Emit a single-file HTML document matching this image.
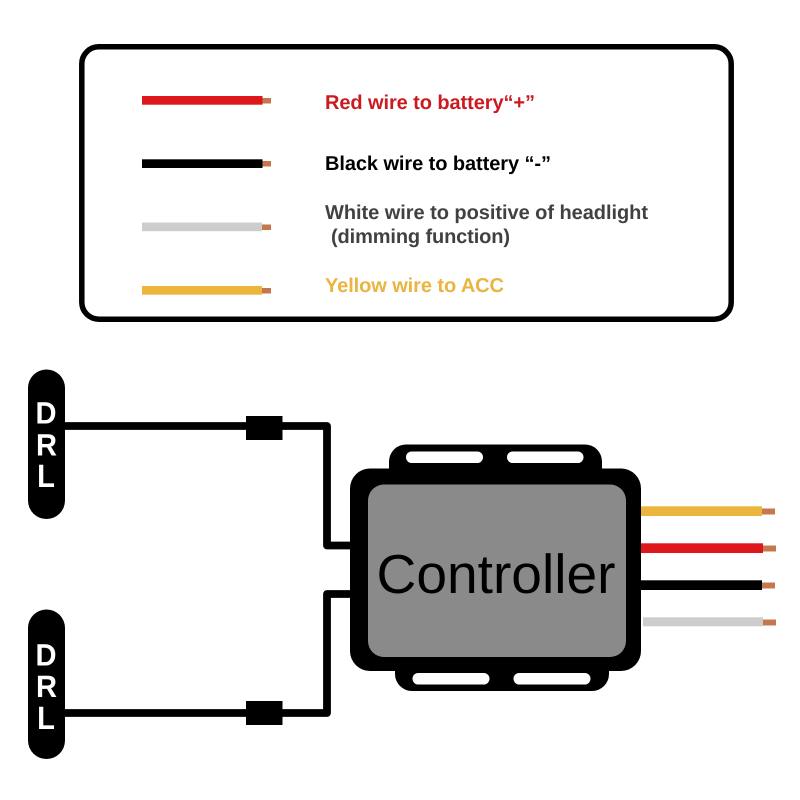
<!DOCTYPE html>
<html>
<head>
<meta charset="utf-8">
<style>
html,body{margin:0;padding:0;background:#fff}
svg{display:block;filter:blur(.3px)}
text{font-family:"Liberation Sans",Arial,sans-serif;text-rendering:geometricPrecision}
</style>
</head>
<body>
<svg width="800" height="800" viewBox="0 0 800 800" xmlns="http://www.w3.org/2000/svg">
<rect width="800" height="800" fill="#fff"/>
<!-- legend frame -->
<rect x="81.8" y="46.8" width="649.4" height="272.4" rx="17" fill="#fff" stroke="#000" stroke-width="5.5"/>
<!-- legend wires -->
<rect x="142" y="96" width="120.5" height="8.7" fill="#dd171b"/><rect x="262.5" y="98" width="8.5" height="5.5" fill="#c5784d"/>
<rect x="142" y="159.3" width="120.5" height="8.7" fill="#000"/><rect x="262.5" y="161" width="8.5" height="5.5" fill="#c5784d"/>
<rect x="142" y="222.5" width="120" height="8.7" fill="#cdcdcd"/><rect x="262" y="224.5" width="9" height="5.5" fill="#c5784d"/>
<rect x="142" y="286" width="120" height="8.7" fill="#ebb53e"/><rect x="262" y="288" width="9" height="5.5" fill="#c5784d"/>
<!-- legend text -->
<g font-weight="700" font-size="20">
<text x="325" y="109" fill="#cb1a20" textLength="210" lengthAdjust="spacing">Red wire to battery“+”</text>
<text x="325" y="170" fill="#000" textLength="226" lengthAdjust="spacing">Black wire to battery “-”</text>
<text x="325" y="219" fill="#414141" textLength="323" lengthAdjust="spacing">White wire to positive of headlight</text>
<text x="331" y="243" fill="#414141" textLength="179" lengthAdjust="spacing">(dimming function)</text>
<text x="325" y="292" fill="#e9b440" textLength="179" lengthAdjust="spacing">Yellow wire to ACC</text>
</g>
<!-- left wiring -->
<path d="M60 426 H327 V545.5 H360" fill="none" stroke="#000" stroke-width="7.8" stroke-linejoin="round"/>
<path d="M60 713 H327 V594 H360" fill="none" stroke="#000" stroke-width="7.8" stroke-linejoin="round"/>
<rect x="246" y="416" width="36.5" height="24" fill="#000"/>
<rect x="246" y="701" width="36.5" height="24" fill="#000"/>
<!-- DRL pills -->
<rect x="28" y="369.5" width="37" height="149.5" rx="18.5" fill="#000"/>
<rect x="28" y="609.5" width="37" height="149.5" rx="18.5" fill="#000"/>
<g fill="#fff" font-weight="700" font-size="30" text-anchor="middle">
<text transform="translate(46,423.5) scale(.97,1.03)">D</text><text transform="translate(46.5,455.5) scale(.97,1.03)">R</text><text transform="translate(46,487) scale(.97,1.08)">L</text>
<text transform="translate(46,665.5) scale(.97,1.03)">D</text><text transform="translate(46.5,697) scale(.97,1.03)">R</text><text transform="translate(46,729) scale(.97,1.08)">L</text>
</g>
<!-- right wires -->
<rect x="640" y="506.3" width="122" height="9.7" fill="#ebb53e"/><rect x="762" y="508.5" width="13" height="6" fill="#c5784d"/>
<rect x="640" y="543.3" width="123" height="9.7" fill="#dd171b"/><rect x="763" y="545.5" width="13" height="6" fill="#c5784d"/>
<rect x="640" y="580.3" width="122" height="9.7" fill="#000"/><rect x="762" y="582.5" width="13" height="6" fill="#c5784d"/>
<rect x="643" y="617.3" width="120" height="9" fill="#cdcdcd"/><rect x="763" y="619.5" width="13" height="6" fill="#c5784d"/>
<!-- controller -->
<rect x="389" y="444.5" width="213" height="60" rx="17" fill="#000"/>
<rect x="395" y="631" width="214" height="60" rx="17" fill="#000"/>
<rect x="350" y="468.5" width="291" height="202.5" rx="20" fill="#000"/>
<rect x="406" y="451.5" width="77" height="11.5" rx="5.7" fill="#fff"/>
<rect x="507" y="451.5" width="76.5" height="11.5" rx="5.7" fill="#fff"/>
<rect x="412.5" y="673" width="77" height="11.5" rx="5.7" fill="#fff"/>
<rect x="513.5" y="673" width="77" height="11.5" rx="5.7" fill="#fff"/>
<rect x="368" y="484.5" width="258" height="172.5" rx="16" fill="#8a8a8a"/>
<text x="376.5" y="593" font-size="55" fill="#000" textLength="239" lengthAdjust="spacingAndGlyphs">Controller</text>
</svg>
</body>
</html>
